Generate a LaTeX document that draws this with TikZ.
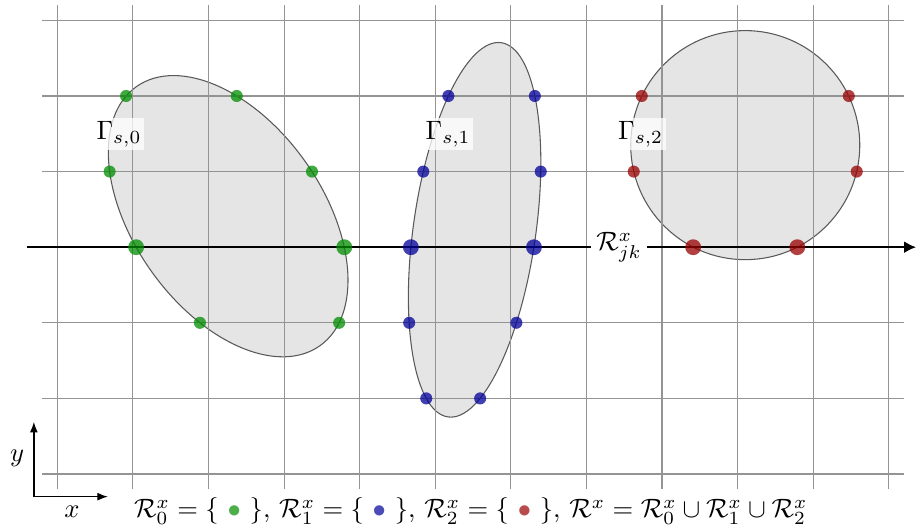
\documentclass[tikz,border=0pt]{standalone}
\usepackage{amsmath}
\usepackage{xcolor}
\usepackage{tikz}
\usetikzlibrary{intersections, arrows.meta}

\colorlet{dotgreen}{green!55!black}
\colorlet{dotblue}{blue!60!black}
\colorlet{dotred}{red!60!black}

\begin{document}
\begin{tikzpicture}[
    gridline/.style={black!42, line width=0.45pt},
    region/.style={draw=black!65, fill=gray!20, line width=0.4pt},
    dot/.style={fill=#1, fill opacity=0.75},
    dot/.default=dotgreen,
    arrow/.style={-{Latex[length=4.5pt, width=4.5pt]}, line width=0.8pt},
    smallarrow/.style={-{Latex[length=4pt, width=3pt]}, line width=0.5pt},
    gammalabel/.style={fill=white, fill opacity=0.75, text opacity=1, inner sep=1pt},
]
\useasboundingbox (-0.758,-0.767) rectangle (11.372,6.270);

% Regions
\path[region, name path=gamma0, rotate around={-54.7:(2.26,3.41)}] (2.26,3.41) ellipse (2.1 and 1.25);
\path[region, name path=gamma1, rotate around={81.9:(5.52,3.23)}] (5.52,3.23) ellipse (2.5 and 0.81);
\path[region, name path=gamma2] (9.1,4.35) circle (1.515);

% Grid
\foreach \i in {0,...,11}
  \draw[gridline] (\i,-0.2) -- (\i,6.2);
\foreach \j in {0,...,6}
  \draw[gridline, name path global=h\j] (-0.2,\j) -- (11.2,\j);

% Axis through the regions
\draw[arrow, name path=axis] (-0.4,3) -- (11.36,3);
\node[fill=white, inner sep=2pt] (rjk) at (7.43,3) {$\mathcal{R}^x_{jk}$};

% Points on the grid lines
\foreach \g/\col/\rows in {gamma0/dotgreen/{2,4,5}, gamma1/dotblue/{1,2,4,5}, gamma2/dotred/{4,5}} {
  \foreach \j in \rows
    \fill[dot=\col, name intersections/.expanded={of=\g\space and h\j}]
      (intersection-1) circle (0.08) (intersection-2) circle (0.08);
  \fill[dot=\col, name intersections/.expanded={of=\g\space and axis}]
    (intersection-1) circle (0.105) (intersection-2) circle (0.105);
}

% Labels
\node[gammalabel] (g0) at (0.816,4.497) {$\Gamma_{s,0}$};
\node[gammalabel] (g1) at (5.17,4.497) {$\Gamma_{s,1}$};
\node[gammalabel] (g2) at (7.716,4.497) {$\Gamma_{s,2}$};

% Coordinate axes
\coordinate (o) at (-0.31,-0.30);
\coordinate (ytip) at (-0.31,0.69);
\coordinate (xtip) at (0.67,-0.30);
\draw[smallarrow] (o) -- (ytip);
\draw[smallarrow] (o) -- (xtip);
\node (ylab) at (-0.533,0.212) {$y$};
\node (xlab) at (0.194,-0.503) {$x$};

% Legend
\node (legend) at (5.47,-0.49) {$\mathcal{R}^x_0 = \{\ \textcolor{dotgreen!70}{\bullet}\ \},\,\mathcal{R}^x_1 = \{\ \textcolor{dotblue!70}{\bullet}\ \},\,\mathcal{R}^x_2 = \{\ \textcolor{dotred!70}{\bullet}\ \},\,\mathcal{R}^x = \mathcal{R}^x_0 \cup \mathcal{R}^x_1 \cup \mathcal{R}^x_2$};

\end{tikzpicture}
\end{document}
